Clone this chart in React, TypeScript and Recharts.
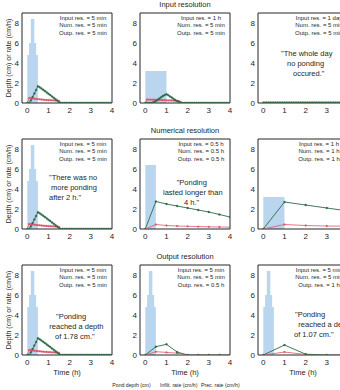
import React from 'react';
import { ComposedChart, Area, Line, XAxis, YAxis, ReferenceArea } from 'recharts';

const GREEN = '#2c6a46';
const RED = '#e0566a';
const BLUE = '#b9d6ee';
const INK = '#262626';
const FONT = '"Liberation Sans", Arial, Helvetica, sans-serif';

// time grids (minutes)
const MIN_5 = [0, 5, 10, 15, 20, 25, 30, 35, 40, 45, 50, 55, 60, 65, 70, 75, 80, 85, 90, 95, 100, 105, 110, 115, 120,
    125, 130, 135, 140, 145, 150, 155, 160, 165, 170, 175, 180, 185, 190, 195, 200, 205, 210, 215, 220, 225, 230, 235, 240];
const MIN_30 = [0, 30, 60, 90, 120, 150, 180, 210, 240];
const MIN_60 = [0, 60, 120, 180, 240];

// precipitation (cm/h), step starts in minutes
const PREC_5_MIN = [0, 5, 10, 15, 20, 25, 30];
const PREC_5 = [4.8, 6, 8.4, 8.4, 6, 4.8, 0];
const PREC_30_MIN = [0, 30];
const PREC_30 = [6.4, 0];
const PREC_60_MIN = [0, 60];
const PREC_60 = [3.2, 0];
const PREC_DAY_MIN = [0, 240];
const PREC_DAY = [0.13, 0.13];

// 5 min / 5 min / 5 min
const POND_A = [0, 0, 0.25, 0.6, 0.95, 1.3, 1.68, 1.57, 1.45, 1.32, 1.19, 1.06, 0.92, 0.79, 0.65, 0.52, 0.38, 0.24, 0.1,
    0, 0, 0, 0, 0, 0, 0, 0, 0, 0, 0, 0, 0, 0, 0, 0, 0, 0, 0, 0, 0, 0, 0, 0, 0, 0, 0, 0, 0, 0];
const INFIL_A = [0, 0.5, 0.48, 0.45, 0.43, 0.41, 0.39, 0.37, 0.35, 0.33, 0.32, 0.3, 0.29, 0.28, 0.27, 0.26, 0.25, 0.24, 0.2,
    0, 0, 0, 0, 0, 0, 0, 0, 0, 0, 0, 0, 0, 0, 0, 0, 0, 0, 0, 0, 0, 0, 0, 0, 0, 0, 0, 0, 0, 0];

// input 1 h
const POND_B = [0, 0, 0, 0, 0.02, 0.1, 0.2, 0.32, 0.45, 0.58, 0.7, 0.8, 0.88, 0.78, 0.66, 0.54, 0.42, 0.3, 0.19, 0.09, 0.02,
    0, 0, 0, 0, 0, 0, 0, 0, 0, 0, 0, 0, 0, 0, 0, 0, 0, 0, 0, 0, 0, 0, 0, 0, 0, 0, 0, 0];
const INFIL_B = [0, 0.35, 0.34, 0.34, 0.33, 0.33, 0.32, 0.31, 0.31, 0.3, 0.29, 0.28, 0.27, 0.26, 0.26, 0.25, 0.24, 0.23, 0.22, 0.21, 0.1,
    0, 0, 0, 0, 0, 0, 0, 0, 0, 0, 0, 0, 0, 0, 0, 0, 0, 0, 0, 0, 0, 0, 0, 0, 0, 0, 0, 0];

// input 1 day
const POND_C = [0, 0, 0, 0, 0, 0, 0, 0, 0, 0, 0, 0, 0, 0, 0, 0, 0, 0, 0, 0, 0, 0, 0, 0, 0,
    0, 0, 0, 0, 0, 0, 0, 0, 0, 0, 0, 0, 0, 0, 0, 0, 0, 0, 0, 0, 0, 0, 0, 0];
const INFIL_C = [0.05, 0.05, 0.05, 0.05, 0.05, 0.05, 0.05, 0.05, 0.05, 0.05, 0.05, 0.05, 0.05, 0.05, 0.05, 0.05, 0.05,
    0.05, 0.05, 0.05, 0.05, 0.05, 0.05, 0.05, 0.05, 0.05, 0.05, 0.05, 0.05, 0.05, 0.05, 0.05, 0.05, 0.05, 0.05, 0.05,
    0.05, 0.05, 0.05, 0.05, 0.05, 0.05, 0.05, 0.05, 0.05, 0.05, 0.05, 0.05, 0.05];

// 0.5 h everywhere
const POND_D = [0, 2.75, 2.5, 2.3, 2.1, 1.9, 1.7, 1.45, 1.2];
const INFIL_D = [0, 0.45, 0.35, 0.3, 0.27, 0.24, 0.22, 0.2, 0.18];
// 1 h everywhere
const POND_E = [0, 2.7, 2.4, 2.1, 1.8];
const INFIL_E = [0, 0.45, 0.35, 0.3, 0.28];
// output 0.5 h
const POND_F = [0, 0.83, 1.07, 0.3, 0, 0, 0, 0, 0];
const INFIL_F = [0, 0.33, 0.26, 0.18, 0, 0, 0, 0, 0];
// output 1 h
const POND_G = [0, 1.0, 0.08, 0, 0];
const INFIL_G = [0, 0.3, 0.05, 0, 0];

const X_TICKS = [0, 1, 2, 3, 4];
const Y_TICKS = [0, 2, 4, 6, 8];
const TITLES = ['Input resolution', 'Numerical resolution', 'Output resolution'];
const LEGEND = ['Pond depth (cm)', 'Infilt. rate (cm/h)', 'Prec. rate (cm/h)'];

const COL_X = [22, 140, 258];
const ROW_Y = [13, 139, 265];
const FRAME_W = 90;
const FRAME_H = 90;

type Series = { min: number[]; val: number[] };

interface PanelDef {
    row: number;
    col: number;
    prec: Series;
    pond: Series;
    infil: Series;
    res: [string, string, string];
    quote?: { x: number; y: number; text: string }[];
}

const S = (min: number[], val: number[]): Series => ({ min, val });

const PANELS: PanelDef[] = [
    { row: 0, col: 0, prec: S(PREC_5_MIN, PREC_5), pond: S(MIN_5, POND_A), infil: S(MIN_5, INFIL_A), res: ['5 min', '5 min', '5 min'] },
    { row: 0, col: 1, prec: S(PREC_60_MIN, PREC_60), pond: S(MIN_5, POND_B), infil: S(MIN_5, INFIL_B), res: ['1 h', '5 min', '5 min'] },
    {
        row: 0, col: 2, prec: S(PREC_DAY_MIN, PREC_DAY), pond: S(MIN_5, POND_C), infil: S(MIN_5, INFIL_C), res: ['1 day', '5 min', '5 min'],
        quote: [{ x: 281, y: 56, text: '"The whole day' }, { x: 287, y: 66, text: 'no ponding' }, { x: 293, y: 76, text: 'occured."' }],
    },
    {
        row: 1, col: 0, prec: S(PREC_5_MIN, PREC_5), pond: S(MIN_5, POND_A), infil: S(MIN_5, INFIL_A), res: ['5 min', '5 min', '5 min'],
        quote: [{ x: 49, y: 180.3, text: '"There was no' }, { x: 51, y: 190.3, text: 'more ponding' }, { x: 49, y: 200.3, text: 'after 2 h."' }],
    },
    {
        row: 1, col: 1, prec: S(PREC_30_MIN, PREC_30), pond: S(MIN_30, POND_D), infil: S(MIN_30, INFIL_D), res: ['0.5 h', '0.5 h', '0.5 h'],
        quote: [{ x: 176.7, y: 185.3, text: '"Ponding' }, { x: 163, y: 195.3, text: 'lasted longer than' }, { x: 184, y: 205, text: '4 h."' }],
    },
    { row: 1, col: 2, prec: S(PREC_60_MIN, PREC_60), pond: S(MIN_60, POND_E), infil: S(MIN_60, INFIL_E), res: ['1 h', '1 h', '1 h'] },
    {
        row: 2, col: 0, prec: S(PREC_5_MIN, PREC_5), pond: S(MIN_5, POND_A), infil: S(MIN_5, INFIL_A), res: ['5 min', '5 min', '5 min'],
        quote: [{ x: 56, y: 318.6, text: '"Ponding' }, { x: 49.3, y: 328.6, text: 'reached a depth' }, { x: 55, y: 338.6, text: 'of 1.78 cm."' }],
    },
    { row: 2, col: 1, prec: S(PREC_5_MIN, PREC_5), pond: S(MIN_30, POND_F), infil: S(MIN_30, INFIL_F), res: ['5 min', '5 min', '0.5 h'] },
    {
        row: 2, col: 2, prec: S(PREC_5_MIN, PREC_5), pond: S(MIN_60, POND_G), infil: S(MIN_60, INFIL_G), res: ['5 min', '5 min', '1 h'],
        quote: [{ x: 295, y: 316.6, text: '"Ponding' }, { x: 298.3, y: 326.6, text: 'reached a depth' }, { x: 294, y: 336.6, text: 'of 1.07 cm."' }],
    },
];

function merge(p: PanelDef) {
    const rows = new Map<number, Record<string, number>>();
    const put = (s: Series, key: string) =>
        s.min.forEach((m, i) => {
            const r = rows.get(m) ?? { t: m / 60 };
            r[key] = s.val[i];
            rows.set(m, r);
        });
    put(p.prec, 'prec');
    put(p.infil, 'infil');
    put(p.pond, 'pond');
    return [...rows.values()].sort((a, b) => a.t - b.t);
}

const tickStyle = { fontSize: 8, fill: INK, fontFamily: FONT };

const Panel: React.FC<{ p: PanelDef }> = ({ p }) => {
    const data = merge(p);
    return (
        <div style={{ position: 'absolute', left: COL_X[p.col] - 22, top: ROW_Y[p.row] - 4 }}>
            <ComposedChart width={22 + FRAME_W + 4} height={4 + FRAME_H + 16} data={data}
                margin={{ top: 4, right: 4, bottom: 0, left: 0 }}>
                <XAxis dataKey="t" type="number" domain={[-0.25, 4]} ticks={X_TICKS} allowDataOverflow
                    axisLine={false} tickLine={false} tickSize={2} tickMargin={2} height={16} tick={tickStyle} />
                <YAxis type="number" domain={[0, 9]} ticks={Y_TICKS} allowDataOverflow
                    axisLine={false} tickLine={false} tickSize={2} tickMargin={1} width={22} tick={tickStyle} />
                <Area dataKey="prec" type="stepAfter" fill={BLUE} fillOpacity={1} stroke="none"
                    connectNulls isAnimationActive={false} />
                <Line dataKey="infil" type="linear" stroke={RED} strokeWidth={0.8} connectNulls
                    dot={{ r: 0.9, fill: RED, stroke: RED, strokeWidth: 0.3 }} isAnimationActive={false} />
                <Line dataKey="pond" type="linear" stroke={GREEN} strokeWidth={0.9} connectNulls
                    dot={{ r: 1, fill: GREEN, stroke: GREEN, strokeWidth: 0.3 }} isAnimationActive={false} />
                <ReferenceArea x1={-0.25} x2={4} y1={0} y2={9} fill="none" fillOpacity={0} stroke={INK}
                    strokeWidth={1} ifOverflow="visible" />
            </ComposedChart>
        </div>
    );
};

export default function App() {
    return (
        <div style={{ position: 'absolute', left: 0, top: 0, width: 340, height: 390, overflow: 'hidden', background: '#fff', fontFamily: FONT }}>
            {PANELS.map((p, i) => <Panel key={i} p={p} />)}
            <svg width={340} height={390} style={{ position: 'absolute', left: 0, top: 0, pointerEvents: 'none' }}
                fontFamily={FONT}>
                {TITLES.map((t, r) => (
                    <text key={t} x={COL_X[1] + FRAME_W / 2} y={ROW_Y[r] - 6} fontSize={7.5} fill={INK} textAnchor="middle">{t}</text>
                ))}
                {ROW_Y.map((y, r) => (
                    <text key={r} transform={`translate(8.5, ${y + FRAME_H / 2}) rotate(-90)`} fontSize={7} fill={INK}
                        textAnchor="middle" dy="0.35em">Depth (cm) or rate (cm/h)</text>
                ))}
                {COL_X.map((x, c) => (
                    <text key={c} x={x + FRAME_W / 2} y={374.5} fontSize={7.5} fill={INK} textAnchor="middle">Time (h)</text>
                ))}
                {PANELS.map((p, i) => {
                    const cx = COL_X[p.col] + 61;
                    const y0 = ROW_Y[p.row];
                    return (
                        <g key={i} fill={INK}>
                            <text x={cx} y={y0 + 6.5} fontSize={6} textAnchor="middle">{`Input res.  = ${p.res[0]}`}</text>
                            <text x={cx} y={y0 + 14} fontSize={6} textAnchor="middle">{`Num. res. = ${p.res[1]}`}</text>
                            <text x={cx} y={y0 + 21.5} fontSize={6} textAnchor="middle">{`Outp. res.  = ${p.res[2]}`}</text>
                            {p.quote?.map((q, j) => (
                                <text key={j} x={q.x} y={q.y} fontSize={7.5}>{q.text}</text>
                            ))}
                        </g>
                    );
                })}
                <g fill={INK} fontSize={5.2}>
                    <text x={112.3} y={387}>{LEGEND[0]}</text>
                    <text x={160} y={387}>{LEGEND[1]}</text>
                    <text x={201} y={387}>{LEGEND[2]}</text>
                </g>
            </svg>
        </div>
    );
}
